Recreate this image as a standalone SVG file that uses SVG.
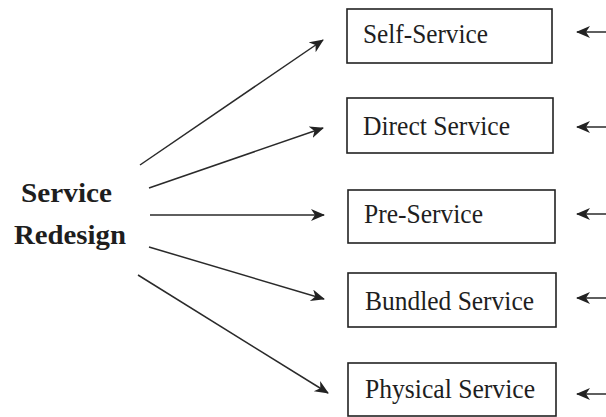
<svg xmlns="http://www.w3.org/2000/svg" width="606" height="417" viewBox="0 0 606 417">
<style>
.bg{fill:#ffffff}
.box{fill:none;stroke:#222;stroke-width:1.6}
.lbl{font-family:"Liberation Serif","Times New Roman",serif;font-size:26.5px;fill:#1e1e1e}
.title{font-family:"Liberation Serif","Times New Roman",serif;font-size:28px;font-weight:bold;fill:#1e1e1e}
.conn line{stroke:#2a2a2a;stroke-width:1.5;fill:none}
</style>
<defs>
<marker id="ah" markerUnits="userSpaceOnUse" markerWidth="16" markerHeight="14" refX="13" refY="6" orient="auto">
<path d="M0,0 L14,6 L0,12 L4,6 z" fill="#222"/>
</marker>
</defs>
<rect class="bg" x="0" y="0" width="606" height="417"/>
<g id="source">
<text class="title" x="21" y="202" textLength="91" lengthAdjust="spacingAndGlyphs">Service</text>
<text class="title" x="14" y="244" textLength="112" lengthAdjust="spacingAndGlyphs">Redesign</text>
</g>
<g id="self-service">
<rect class="box" x="347" y="9" width="205" height="54"/>
<text class="lbl" x="363" y="43" textLength="125" lengthAdjust="spacingAndGlyphs">Self-Service</text>
</g>
<g id="direct-service">
<rect class="box" x="347" y="98" width="206" height="55"/>
<text class="lbl" x="363" y="135" textLength="147" lengthAdjust="spacingAndGlyphs">Direct Service</text>
</g>
<g id="pre-service">
<rect class="box" x="348" y="190" width="207" height="53"/>
<text class="lbl" x="364" y="223" textLength="119" lengthAdjust="spacingAndGlyphs">Pre-Service</text>
</g>
<g id="bundled-service">
<rect class="box" x="348" y="273" width="208" height="54"/>
<text class="lbl" x="365" y="310" textLength="169" lengthAdjust="spacingAndGlyphs">Bundled Service</text>
</g>
<g id="physical-service">
<rect class="box" x="348" y="363" width="208" height="53"/>
<text class="lbl" x="365" y="398" textLength="170" lengthAdjust="spacingAndGlyphs">Physical Service</text>
</g>
<g class="conn" id="connectors">
<line x1="140" y1="165" x2="323" y2="40" marker-end="url(#ah)"/>
<line x1="149" y1="188" x2="323" y2="128" marker-end="url(#ah)"/>
<line x1="150" y1="215" x2="324" y2="215" marker-end="url(#ah)"/>
<line x1="149" y1="247" x2="324" y2="299" marker-end="url(#ah)"/>
<line x1="138" y1="275" x2="328" y2="393" marker-end="url(#ah)"/>
<line x1="606" y1="32" x2="577" y2="32" marker-end="url(#ah)"/>
<line x1="606" y1="127" x2="577" y2="127" marker-end="url(#ah)"/>
<line x1="606" y1="214" x2="577" y2="214" marker-end="url(#ah)"/>
<line x1="606" y1="298" x2="577" y2="298" marker-end="url(#ah)"/>
<line x1="606" y1="394" x2="577" y2="394" marker-end="url(#ah)"/>
</g>
</svg>
